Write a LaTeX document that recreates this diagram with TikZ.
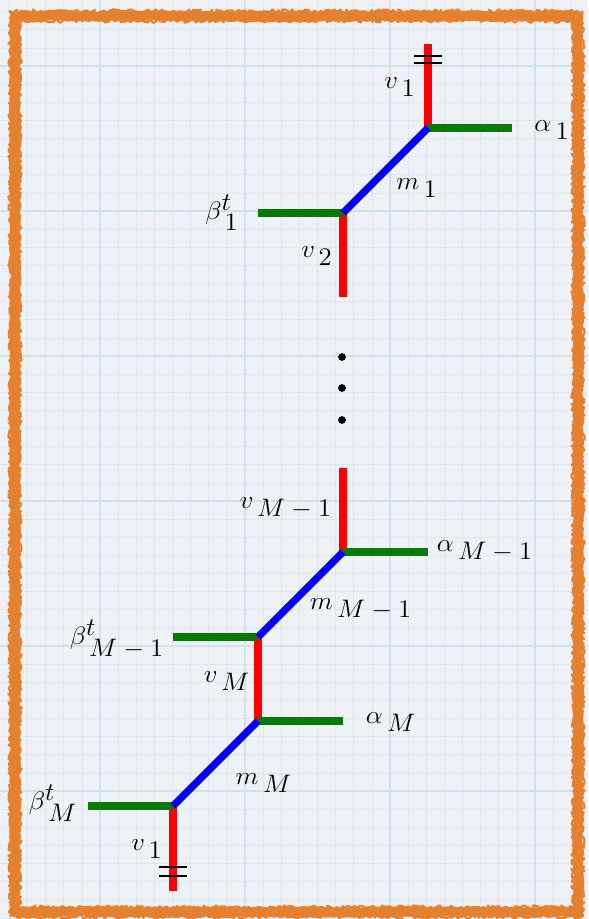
\documentclass[tikz,border=0pt]{standalone}
\usepackage{amsmath}
\usepackage{xcolor}
\usepackage{tikz}
\usetikzlibrary{positioning, calc, decorations.pathmorphing}

\definecolor{paperbg}{HTML}{EEF1F5}
\definecolor{paperminor}{HTML}{DEE7ED}
\definecolor{papermajor}{HTML}{CFE2E9}
\definecolor{frameorange}{HTML}{E4802E}
\definecolor{legred}{HTML}{FF0000}
\definecolor{leggreen}{HTML}{087A08}
\definecolor{legblue}{HTML}{0000FF}

% big sub- and superscripts, stretched labels as in the drawing
\newcommand{\bsub}[1]{_{\textstyle\,#1}}
\newcommand{\bsup}[1]{^{\textstyle #1}}
\newcommand{\widelab}[1]{\scalebox{1.06}[1]{$#1$}}

\begin{document}
\begin{tikzpicture}[
          x=0.02cm, y=-0.02cm,
          font=\fontsize{14}{16}\selectfont,
          vleg/.style={draw=legred, line width=4.2pt},
          hleg/.style={draw=leggreen, line width=4.2pt},
          mleg/.style={draw=legblue, line width=4.2pt},
          tickline/.style={draw=black, line width=0.8pt},
          dot/.style={circle, fill=black, inner sep=0pt, minimum size=4.4pt},
          lab/.style={inner sep=1pt}
        ]
  % grid paper
  \useasboundingbox (0,0) rectangle (588,919);
  \fill[paperbg] (0,0) rectangle (588,919);
  \foreach \k in {0,...,32} {
    \draw[paperminor, line width=0.4pt] ({9.375+\k*18.125},0) -- ++(0,919);
  }
  \foreach \k in {0,...,50} {
    \draw[paperminor, line width=0.4pt] (0,{11.625+\k*18.125}) -- ++(588,0);
  }
  \foreach \gx in {100,245,390,535} {
    \draw[papermajor, line width=0.9pt] (\gx,0) -- ++(0,919);
  }
  \foreach \gy in {66,211,356,501,646,791} {
    \draw[papermajor, line width=0.9pt] (0,\gy) -- ++(588,0);
  }

  % rough frame
  \pgfmathsetseed{7}
  \draw[frameorange, line width=5.5pt, line join=round,
        decorate, decoration={random steps, segment length=1.5pt, amplitude=0.7pt}]
    (15,16) rectangle (578,912);
  \draw[frameorange, line width=1.2pt, line join=round,
        decorate, decoration={random steps, segment length=1pt, amplitude=1.2pt}]
    (10.5,11.5) rectangle (582.5,916.5);
  \draw[frameorange, line width=1.2pt, line join=round,
        decorate, decoration={random steps, segment length=1pt, amplitude=1.2pt}]
    (19.5,20.5) rectangle (573.5,907.5);

  % junctions and free ends
  \coordinate (v1top) at (428,44);
  \coordinate (j1) at (428,128);
  \coordinate (a1end) at (512,128);
  \coordinate (j2) at (343,213);
  \coordinate (b1end) at (258,213);
  \coordinate (v2end) at (343,297);
  \coordinate (vmtop) at (343,468);
  \coordinate (j3) at (343,552);
  \coordinate (amend) at (428,552);
  \coordinate (j4) at (258,637);
  \coordinate (bmend) at (173,637);
  \coordinate (j5) at (258,721);
  \coordinate (aMend) at (343,721);
  \coordinate (j6) at (173,806);
  \coordinate (bMend) at (88,806);
  \coordinate (v1bot) at (173,891);

  % vertical legs
  \draw[vleg] (v1top) -- (j1);
  \draw[vleg] (j2) -- (v2end);
  \draw[vleg] (vmtop) -- (j3);
  \draw[vleg] (j4) -- (j5);
  \draw[vleg] (j6) -- (v1bot);

  % horizontal legs
  \draw[hleg] (j1) -- (a1end);
  \draw[hleg] (b1end) -- (j2);
  \draw[hleg] (j3) -- (amend);
  \draw[hleg] (bmend) -- (j4);
  \draw[hleg] (j5) -- (aMend);
  \draw[hleg] (bMend) -- (j6);

  % diagonal legs
  \draw[mleg] (j1) -- (j2);
  \draw[mleg] (j3) -- (j4);
  \draw[mleg] (j5) -- (j6);

  % identification marks
  \draw[tickline] ($(v1top)+(-14,12)$) -- ++(28,0);
  \draw[tickline] ($(v1top)+(-14,19)$) -- ++(28,0);
  \draw[tickline] ($(v1bot)+(-14,-24)$) -- ++(28,0);
  \draw[tickline] ($(v1bot)+(-14,-15)$) -- ++(28,0);

  % dots
  \node[dot] (dota) at (342,357) {};
  \node[dot] (dotb) at (342,388) {};
  \node[dot] (dotc) at (342,420) {};

  % labels
  \node[lab] (lv1a) at (400,87) {\widelab{v\bsub{1}}};
  \node[lab] (la1) at (552,130) {\widelab{\alpha\bsub{1}}};
  \node[lab] (lm1) at (417,188) {\widelab{m\bsub{1}}};
  \node[lab] (lb1) at (222,213) {\widelab{\beta\bsup{t}\bsub{1}}};
  \node[lab] (lv2) at (317,256) {\widelab{v\bsub{2}}};
  \node[lab] (lvm) at (286,508) {\widelab{v\bsub{M-1}}};
  \node[lab] (lam) at (485,551) {\widelab{\alpha\bsub{M-1}}};
  \node[lab] (lmm) at (361,609) {\widelab{m\bsub{M-1}}};
  \node[lab] (lbm) at (117,639) {\widelab{\beta\bsup{t}\bsub{M-1}}};
  \node[lab] (lvM) at (227,681) {\widelab{v\bsub{M}}};
  \node[lab] (laM) at (391,722) {\widelab{\alpha\bsub{M}}};
  \node[lab] (lmM) at (264,783) {\widelab{m\bsub{M}}};
  \node[lab] (lbM) at (53,803) {\widelab{\beta\bsup{t}\bsub{M}}};
  \node[lab] (lv1b) at (147,849) {\widelab{v\bsub{1}}};
\end{tikzpicture}
\end{document}
